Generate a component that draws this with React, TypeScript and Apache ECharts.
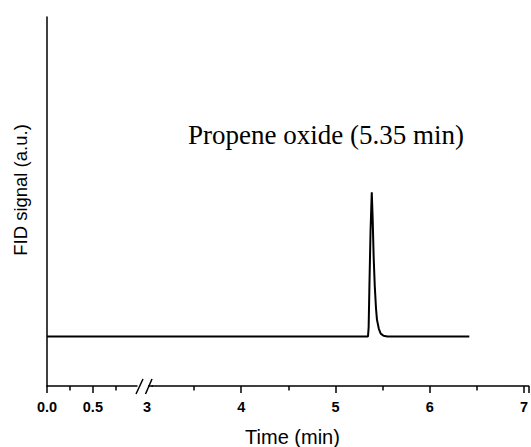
import React, { useEffect, useRef } from "react";
import * as echarts from "echarts";

// Time (min) and FID signal (a.u., arbitrary 0-100 scale)
const leftTimes = [0, 0.5, 1.09];
const leftSignal = [13.4, 13.4, 13.4];
const rightTimes = [3, 4, 5, 5.345, 5.352, 5.36, 5.372, 5.385, 5.395, 5.405, 5.417, 5.43, 5.44, 5.46, 5.48, 5.51, 5.55, 6, 6.42];
const rightSignal = [13.4, 13.4, 13.4, 13.4, 16, 27, 42, 52.5, 45, 35, 27, 21, 18, 15.5, 14.2, 13.6, 13.4, 13.4, 13.4];
const leftTickLabels = [0, 0.5];
const rightTickLabels = [3, 4, 5, 6, 7];
const peakLabel = "Propene oxide (5.35 min)";
const xName = "Time (min)";
const yName = "FID signal (a.u.)";

export default function App() {
  const ref = useRef<HTMLDivElement>(null);
  useEffect(() => {
    if (!ref.current) return;
    const chart = echarts.init(ref.current, null, { renderer: "svg" });
    const axisLine = { show: true, lineStyle: { color: "#000", width: 1.5 } };
    const labelStyle = {
      color: "#000",
      fontFamily: "Liberation Sans, Arial, sans-serif",
      fontWeight: "bold" as const,
      fontSize: 14.5,
      margin: 13,
    };
    chart.setOption({
      animation: false,
      backgroundColor: "#fff",
      grid: [
        { left: 47, top: 17, width: 100, bottom: 61 },
        { left: 147, top: 17, right: 0, bottom: 61 },
      ],
      xAxis: [
        {
          type: "value",
          gridIndex: 0,
          min: 0,
          max: 1.09,
          interval: 0.5,
          axisLine,
          splitLine: { show: false },
          axisTick: { show: true, length: 7, lineStyle: { color: "#000", width: 1.5 } },
          minorTick: { show: true, splitNumber: 2, length: 4.5, lineStyle: { color: "#000", width: 1.5 } },
          axisLabel: {
            ...labelStyle,
            showMaxLabel: false,
            formatter: (v: number) => (leftTickLabels.includes(v) ? v.toFixed(1) : ""),
          },
        },
        {
          type: "value",
          gridIndex: 1,
          min: 3,
          max: 7.05,
          interval: 1,
          axisLine,
          splitLine: { show: false },
          axisTick: { show: true, length: 7, lineStyle: { color: "#000", width: 1.5 } },
          minorTick: { show: true, splitNumber: 2, length: 4.5, lineStyle: { color: "#000", width: 1.5 } },
          axisLabel: {
            ...labelStyle,
            showMaxLabel: false,
            formatter: (v: number) => (rightTickLabels.includes(v) ? String(v) : ""),
          },
        },
      ],
      yAxis: [
        {
          type: "value",
          gridIndex: 0,
          min: 0,
          max: 100,
          axisLine,
          axisTick: { show: false },
          axisLabel: { show: false },
          splitLine: { show: false },
        },
        {
          type: "value",
          gridIndex: 1,
          min: 0,
          max: 100,
          axisLine: { show: false },
          axisTick: { show: false },
          axisLabel: { show: false },
          splitLine: { show: false },
        },
      ],
      series: [
        {
          type: "line",
          xAxisIndex: 0,
          yAxisIndex: 0,
          data: leftTimes.map((t, i) => [t, leftSignal[i]]),
          showSymbol: false,
          lineStyle: { color: "#000", width: 2 },
          z: 3,
        },
        {
          type: "line",
          xAxisIndex: 1,
          yAxisIndex: 1,
          data: rightTimes.map((t, i) => [t, rightSignal[i]]),
          showSymbol: false,
          lineStyle: { color: "#000", width: 2 },
          z: 3,
        },
      ],
      graphic: [
        {
          type: "rect",
          shape: { x: 137.5, y: 380, width: 14, height: 16 },
          style: { fill: "#fff" },
          z: 100,
        },
        {
          type: "line",
          shape: { x1: 136, y1: 394, x2: 143, y2: 379 },
          style: { stroke: "#000", lineWidth: 1.5 },
          z: 101,
        },
        {
          type: "line",
          shape: { x1: 145.5, y1: 394, x2: 152, y2: 379 },
          style: { stroke: "#000", lineWidth: 1.5 },
          z: 101,
        },
        {
          type: "line",
          shape: { x1: 148, y1: 386, x2: 153, y2: 386 },
          style: { stroke: "#000", lineWidth: 1.5 },
          z: 101,
        },
        {
          type: "text",
          x: 326,
          y: 135,
          style: {
            text: peakLabel,
            fontFamily: "Liberation Serif, Times New Roman, serif",
            fontSize: 27,
            fill: "#000",
            align: "center",
            verticalAlign: "middle",
          },
          z: 100,
        },
        {
          type: "text",
          x: 292.5,
          y: 437,
          style: {
            text: xName,
            fontFamily: "Liberation Sans, Arial, sans-serif",
            fontSize: 20,
            fill: "#000",
            align: "center",
            verticalAlign: "middle",
          },
          z: 100,
        },
        {
          type: "text",
          x: 20,
          y: 190,
          rotation: Math.PI / 2,
          style: {
            text: yName,
            fontFamily: "Liberation Sans, Arial, sans-serif",
            fontSize: 18.5,
            fill: "#000",
            align: "center",
            verticalAlign: "middle",
          },
          z: 100,
        },
      ],
    });
    return () => chart.dispose();
  }, []);
  return (
    <div
      ref={ref}
      style={{ position: "fixed", left: 0, top: 0, width: 531, height: 447, background: "#fff" }}
    />
  );
}
